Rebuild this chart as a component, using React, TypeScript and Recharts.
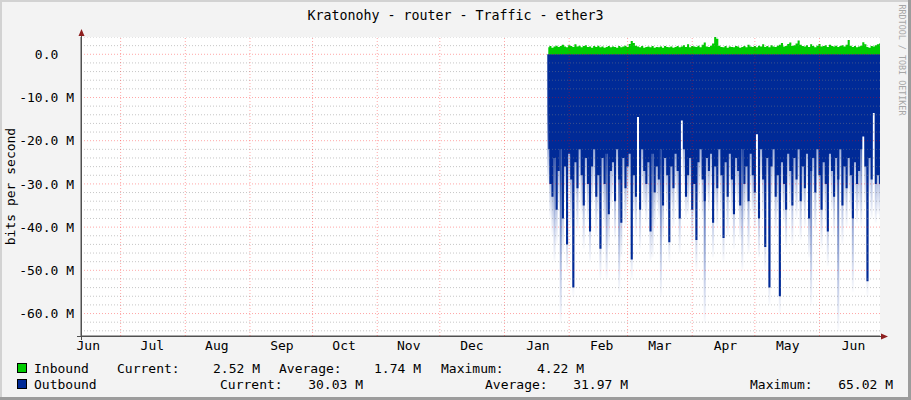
import React from 'react';
import { ComposedChart, Area, Bar, XAxis, YAxis, ReferenceLine, CartesianGrid } from 'recharts';

const FONT = "'DejaVu Sans Mono', monospace";

const chartTitle = 'Kratonohy - router - Traffic - ether3';
const yAxisTitle = 'bits per second';
const watermark = 'RRDTOOL / TOBI OETIKER';

// x axis: days since start of the graph window
const xDomain = [0, 383];
const monthLabels = ['Jun', 'Jul', 'Aug', 'Sep', 'Oct', 'Nov', 'Dec', 'Jan', 'Feb', 'Mar', 'Apr', 'May', 'Jun'];
const monthLabelDays = [3.5, 34.2, 65.1, 96.3, 126.1, 157.1, 187.4, 219, 249.6, 277.5, 308.9, 338.8, 370.3];
const monthStartDays = [19, 50, 81, 111, 142, 172, 203, 234, 262, 293, 323, 354];

// y axis (millions of bits per second)
const yDomain = [-65.2, 4];
const yTicks = [0, -10, -20, -30, -40, -50, -60];
const yTickLabels = ['0.0', '-10.0 M', '-20.0 M', '-30.0 M', '-40.0 M', '-50.0 M', '-60.0 M'];
const yMinorGrid = [4, 2, -2, -4, -6, -8, -12, -14, -16, -18, -22, -24, -26, -28, -32, -34, -36, -38, -42, -44, -46, -48, -52, -54, -56, -58, -62, -64];

const dataStartDay = 224;

const inbound = [
  1.6, 1.9, 1.5, 1.8, 2.0, 1.7, 1.9, 2.2, 1.8, 1.6, 2.1, 1.9, 1.7, 2.3, 1.8, 2.0, 1.6, 1.9, 2.1, 1.7,
  1.8, 1.5, 1.9, 1.7, 2.0, 1.6, 1.8, 1.5, 1.7, 1.9, 1.6, 1.8, 1.7, 1.5, 1.9, 1.6, 1.8, 2.0, 1.7, 2.4,
  3.1, 2.6, 2.0, 1.8, 1.6, 1.9, 1.5, 1.7, 1.8, 1.6, 1.9, 1.5, 1.7, 1.6, 1.8, 1.5, 1.9, 1.7, 1.6, 1.8,
  1.5, 1.7, 1.9, 1.6, 1.8, 2.1, 1.7, 2.3, 1.6, 1.9, 1.8, 1.7, 2.0, 1.6, 2.2, 2.7, 1.8, 1.7, 2.0, 2.5,
  4.22, 3.6, 2.0, 1.7, 1.6, 1.9, 1.5, 1.8, 1.7, 1.6, 1.9, 1.8, 1.5, 1.7, 1.9, 1.6, 2.2, 1.8, 1.7, 1.9,
  1.6, 2.0, 1.8, 2.3, 1.7, 1.9, 1.6, 2.1, 1.8, 1.7, 2.0, 2.2, 2.6, 1.8, 1.9, 2.4, 2.7, 1.9, 2.1, 2.5,
  3.2, 2.2, 1.9, 1.8, 2.1, 1.7, 2.3, 1.9, 1.6, 2.0, 2.4, 1.8, 1.9, 2.1, 1.7, 2.2, 1.9, 1.8, 2.0, 1.7,
  1.9, 2.1, 1.8, 2.2, 3.3, 2.0, 1.7, 1.9, 1.6, 1.8, 2.0, 2.8, 2.3, 1.7, 1.5, 1.9, 1.8, 2.1, 2.3, 2.52,
];

const outboundAvg = [
  22, 30, 33, 24, 36, 27, 22, 38, 26, 44,
  23, 29, 54, 25, 31, 22, 28, 35, 24, 30,
  41, 26, 22, 33, 28, 45, 24, 30, 23, 37,
  27, 25, 34, 22, 29, 39, 24, 31, 26, 23,
  47.5, 28, 33, 14.5, 36, 22, 27, 30, 25, 41,
  23, 32, 26, 29, 22, 35, 24, 28, 43.5, 26,
  31, 23, 27, 38, 15.3, 22, 33, 28, 24, 36,
  30, 43, 25, 22, 29, 34, 24, 27, 23, 39,
  26, 31, 22, 28, 42.5, 25, 33, 23, 29, 37,
  24, 27, 35, 22, 30, 26, 34, 23, 28, 32,
  18.5, 38, 22, 29, 44.6, 24, 54, 26, 22, 33,
  28, 56, 25, 30, 36, 23, 27, 35, 24, 29,
  22, 34, 26, 31, 23, 38, 27, 24, 32, 22,
  28, 36, 25, 30, 41, 23, 27, 33, 24, 29,
  22, 35, 26, 31, 24, 28, 38, 25, 30, 27,
  22, 19, 26, 52.5, 24, 29, 13.6, 30, 28, 30.03,
];

const outboundPeak = [
  30, 38, 42, 48, 44, 35, 62, 46, 34, 50,
  31, 40, 56, 33, 41, 30, 37, 45, 32, 39,
  48, 35, 31, 42, 37, 52, 33, 40, 52, 45,
  36, 33, 43, 30, 55, 47, 32, 40, 35, 31,
  52, 37, 42, 14.5, 45, 30, 36, 39, 34, 48,
  47, 40, 35, 38, 56, 43, 32, 37, 48, 35,
  40, 31, 36, 46, 15.3, 30, 38, 37, 33, 44,
  38, 50, 34, 30, 38, 62, 33, 36, 31, 47,
  35, 40, 30, 37, 48, 34, 42, 31, 38, 45,
  33, 36, 43, 50, 39, 35, 46, 31, 37, 41,
  18.5, 47, 30, 38, 50, 33, 58, 35, 30, 42,
  37, 60, 34, 39, 45, 31, 36, 44, 33, 38,
  30, 43, 35, 40, 31, 47, 58, 32, 41, 30,
  37, 45, 34, 39, 49, 31, 36, 42, 33, 64,
  30, 44, 35, 40, 32, 37, 55, 34, 39, 36,
  40, 19, 35, 56, 33, 38, 13.6, 39, 37, 38,
];

const legendRows = [
  { name: 'Inbound', color: '#00CC00', current: '2.52 M', average: '1.74 M', maximum: '4.22 M' },
  { name: 'Outbound', color: '#002A97', current: '30.03 M', average: '31.97 M', maximum: '65.02 M' },
];

const rows = inbound.map((v, i) => ({
  day: dataStartDay + i,
  inbound: v,
  outAvg: -outboundAvg[i],
  outPeak: -outboundPeak[i],
}));

const YTick = (props: any) => {
  const { x, y, payload } = props;
  const idx = yTicks.indexOf(payload.value);
  const label = idx >= 0 ? yTickLabels[idx] : String(payload.value);
  const shift = label.endsWith('M') ? 0 : 15.7;
  return (
    <text x={x - shift} y={y} dy="0.355em" textAnchor="end" fontFamily={FONT} fontSize={13} fill="#000">
      {label}
    </text>
  );
};

const XTick = (props: any) => {
  const { x, y, index } = props;
  const label = monthLabels[index] ?? '';
  return (
    <text x={x} y={y} dy="0.71em" textAnchor="middle" fontFamily={FONT} fontSize={13} fill="#000">
      {label}
    </text>
  );
};

const txt = (extra: React.CSSProperties): React.CSSProperties => ({
  position: 'absolute',
  fontFamily: FONT,
  fontSize: 13,
  lineHeight: '13px',
  color: '#000',
  whiteSpace: 'pre',
  ...extra,
});

export default function App() {
  const rowTops = [362, 378];
  const cols = [
    { cur: 117, curR: 260, avg: 279, avgR: 421, max: 441, maxR: 584 },
    { cur: 220, curR: 363, avg: 485, avgR: 628, max: 750, maxR: 893 },
  ];
  return (
    <div style={{ position: 'absolute', left: 0, top: 0, width: 911, height: 400, background: '#F3F3F3', overflow: 'hidden' }}>
      <ComposedChart width={911} height={400} data={rows} margin={{ top: 37, right: 31, bottom: 34, left: 0 }}>
        <defs>
          <linearGradient id="peakFade" x1="0" y1="0" x2="0" y2="1">
            <stop offset="0%" stopColor="#002A97" stopOpacity={1} />
            <stop offset="45%" stopColor="#002A97" stopOpacity={0.85} />
            <stop offset="100%" stopColor="#2A4FB0" stopOpacity={0.02} />
          </linearGradient>
        </defs>
        <CartesianGrid fill="#FFFFFF" horizontal={false} vertical={false} stroke="none" />
        <XAxis
          dataKey="day"
          type="number"
          domain={xDomain}
          ticks={monthLabelDays}
          interval={0}
          allowDataOverflow
          height={30}
          tickSize={0}
          tickMargin={5}
          tickLine={false}
          axisLine={{ stroke: '#505050' }}
          tick={<XTick />}
        />
        <YAxis
          type="number"
          domain={yDomain}
          ticks={yTicks}
          interval={0}
          allowDataOverflow
          width={81}
          tickSize={0}
          tickMargin={7}
          tickLine={false}
          axisLine={{ stroke: '#505050' }}
          tick={<YTick />}
        />
        <Bar dataKey="outPeak" barSize={2} fill="url(#peakFade)" isAnimationActive={false} zIndex={50} />
        <Area type="step" dataKey="outAvg" fill="#002A97" fillOpacity={1} stroke="none" isAnimationActive={false} dot={false} activeDot={false} zIndex={100} />
        <Area type="step" dataKey="inbound" fill="#00CC00" fillOpacity={1} stroke="none" isAnimationActive={false} dot={false} activeDot={false} zIndex={100} />
        {yMinorGrid.map((v) => (
          <ReferenceLine key={'ym' + v} y={v} stroke="#808080" strokeOpacity={0.45} strokeDasharray="1 2" ifOverflow="hidden" zIndex={600} />
        ))}
        {yTicks.map((v) => (
          <ReferenceLine key={'yM' + v} y={v} stroke="#FF0000" strokeOpacity={0.35} strokeDasharray="1 2" zIndex={600} />
        ))}
        {monthStartDays.map((d) => (
          <ReferenceLine key={'xM' + d} x={d} stroke="#FF0000" strokeOpacity={0.35} strokeDasharray="1 2" zIndex={600} />
        ))}
      </ComposedChart>

      {/* axis extensions and arrows */}
      <svg width={911} height={400} style={{ position: 'absolute', left: 0, top: 0, pointerEvents: 'none' }}>
        <line x1={81.5} y1={30} x2={81.5} y2={340} stroke="#505050" strokeWidth={1} />
        <line x1={77} y1={336.5} x2={884} y2={336.5} stroke="#505050" strokeWidth={1} />
        <polygon points="81.5,29 78.5,36 84.5,36" fill="#8E1F1F" />
        <polygon points="888,336.5 881,333.5 881,339.5" fill="#8E1F1F" />
        {/* 3D frame */}
        <rect x={0} y={0} width={911} height={2} fill="#D2D2D2" />
        <rect x={0} y={0} width={2} height={400} fill="#D2D2D2" />
        <rect x={0} y={397} width={911} height={3} fill="#9C9C9C" />
        <rect x={908} y={0} width={3} height={400} fill="#9C9C9C" />
      </svg>

      <div style={txt({ left: 0, width: 911, top: 8, textAlign: 'center', fontSize: 13.3, transform: 'scaleY(1.12)' })}>{chartTitle}</div>
      <div style={txt({ left: 10 - 100, top: 186 - 6.5, width: 200, textAlign: 'center', transform: 'rotate(-90deg)' })}>{yAxisTitle}</div>
      <div style={txt({ left: 902 - 70, top: 60 - 5, width: 140, fontSize: 8.4, lineHeight: '10px', textAlign: 'center', color: '#A6A6A6', transform: 'rotate(90deg) scaleY(1.1)' })}>{watermark}</div>

      {legendRows.map((r, i) => (
        <React.Fragment key={r.name}>
          <div style={{ position: 'absolute', left: 17, top: rowTops[i] + 1, width: 8, height: 8, background: r.color, border: '1px solid #000' }} />
          <div style={txt({ left: 34, top: rowTops[i] })}>{r.name}</div>
          <div style={txt({ left: cols[i].cur, top: rowTops[i] })}>Current:</div>
          <div style={txt({ right: 911 - cols[i].curR, top: rowTops[i] })}>{r.current}</div>
          <div style={txt({ left: cols[i].avg, top: rowTops[i] })}>Average:</div>
          <div style={txt({ right: 911 - cols[i].avgR, top: rowTops[i] })}>{r.average}</div>
          <div style={txt({ left: cols[i].max, top: rowTops[i] })}>Maximum:</div>
          <div style={txt({ right: 911 - cols[i].maxR, top: rowTops[i] })}>{r.maximum}</div>
        </React.Fragment>
      ))}
    </div>
  );
}
